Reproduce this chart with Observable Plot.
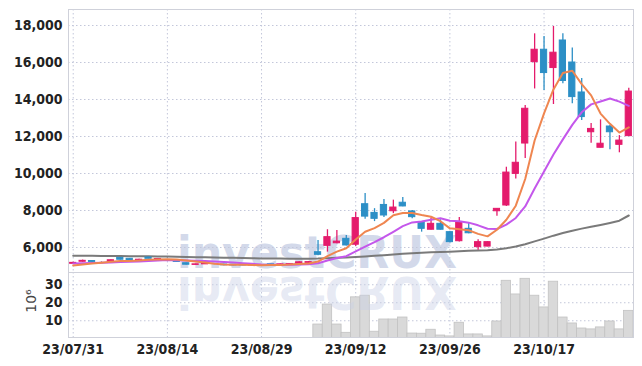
<!DOCTYPE html>
<html><head><meta charset="utf-8">
<script src="https://cdn.jsdelivr.net/npm/d3@7"></script>
<script src="https://cdn.jsdelivr.net/npm/@observablehq/plot@0.6"></script>
<style>
body{margin:0;background:#fff;}
#chart{position:relative;width:642px;height:366px;}
#chart svg{display:block;}
</style></head><body><div id="chart"></div>
<script>
const dates = ["23/07/31","23/08/01","23/08/02","23/08/03","23/08/04","23/08/07","23/08/08","23/08/09","23/08/10","23/08/11",
"23/08/14","23/08/16","23/08/17","23/08/18","23/08/21","23/08/22","23/08/23","23/08/24","23/08/25","23/08/28",
"23/08/29","23/08/30","23/08/31","23/09/01","23/09/04","23/09/05","23/09/06","23/09/07","23/09/08","23/09/11",
"23/09/12","23/09/13","23/09/14","23/09/15","23/09/18","23/09/19","23/09/20","23/09/21","23/09/22","23/09/25",
"23/09/26","23/09/27","23/10/04","23/10/05","23/10/06","23/10/10","23/10/11","23/10/12","23/10/13","23/10/16",
"23/10/17","23/10/18","23/10/19","23/10/20","23/10/23","23/10/24","23/10/25","23/10/26","23/10/27","23/10/30"];
const open = [5120,5230,5270,5200,5230,5440,5390,5250,5460,5290,
5430,5310,5150,5060,5090,5090,5080,5070,5060,5030,
5060,5090,5060,5080,5120,5170,5745,6090,6230,6470,
6150,8340,7870,8300,7960,8420,7950,7370,6960,7280,
6830,6340,7010,6020,6050,7960,8270,9980,11620,16020,
16690,15700,17190,16000,14380,12230,11390,12540,11550,12020];
const high = [5200,5320,5290,5230,5330,5460,5400,5370,5480,5400,
5450,5330,5160,5100,5140,5110,5090,5080,5070,5080,
5080,5100,5110,5130,5230,5240,6380,6960,6920,6650,
7910,8920,8100,8600,8560,8700,8000,7400,7600,7500,
6850,7620,7350,6420,6310,8100,10340,11700,13680,17550,
17410,17950,17550,16790,15130,12700,12900,12600,12050,14610];
const low = [5100,5210,5180,5170,5210,5320,5270,5230,5380,5270,
5410,5200,5050,5050,5080,5070,5020,5010,5020,5020,
5040,5050,5050,5070,5110,5150,5560,5750,6200,6080,
6060,7530,7400,7620,7830,8200,7560,6830,6940,6940,
6260,6300,6740,5850,6040,7690,8220,9700,10810,14570,
14490,13730,14850,13770,12860,11640,11390,11290,11120,12000];
const close = [5170,5280,5220,5200,5310,5340,5290,5340,5390,5380,
5430,5220,5070,5090,5120,5090,5040,5030,5030,5060,
5060,5060,5090,5110,5200,5210,5605,6560,6320,6110,
7590,7670,7550,7730,8160,8220,7640,7010,7280,6960,
6290,7370,6770,6290,6290,8090,10050,10580,13500,16690,
15430,16530,15000,14130,13050,12410,11610,12230,11780,14430];
// volume, millions
const volume = [0.2,0.2,0.2,0.2,0.2,0.2,0.2,0.2,0.2,0.2,
0.2,0.2,0.2,0.2,0.2,0.2,0.2,0.2,0.2,0.2,
0.2,0.2,0.2,0.2,0.2,0.2,7.9,19,7.9,3.3,
23,23.9,3.9,10.7,10.7,11.8,2.9,2.8,5,1.8,
1.3,8.9,2.4,2.4,1.3,9.6,32.2,24.6,33.3,23.9,
17.4,31.7,11.8,8.5,5.7,5.2,6.3,9.6,5.2,15.5];
const ma5 = [5030,5080,5130,5180,5236,5270,5272,5296,5334,5348,
5366,5352,5298,5238,5186,5118,5082,5074,5062,5050,
5044,5048,5060,5076,5104,5134,5243,5537,5779,5961,
6437,6850,7048,7330,7740,7866,7860,7752,7662,7422,
7036,6982,6934,6736,6602,6962,7498,8260,9702,11782,
13250,14546,15430,15556,14828,14224,13240,12686,12216,12492];
const ma10 = [5140,5150,5160,5170,5190,5210,5230,5250,5270,5292,
5318,5312,5297,5286,5267,5242,5217,5186,5150,5118,
5081,5065,5067,5069,5077,5089,5146,5299,5428,5533,
5786,6047,6293,6555,6851,7152,7355,7400,7496,7581,
7451,7421,7343,7199,7012,6999,7240,7597,8219,9192,
10106,11022,11845,12629,13305,13737,13893,14058,13886,13660];
const ma60 = [5560,5556,5552,5547,5543,5538,5532,5527,5521,5515,
5509,5500,5490,5480,5470,5460,5450,5440,5430,5420,
5412,5405,5400,5396,5393,5392,5400,5420,5440,5460,
5490,5520,5550,5580,5620,5660,5690,5710,5740,5760,
5775,5800,5820,5835,5850,5890,5960,6050,6180,6330,
6480,6640,6780,6910,7020,7120,7220,7330,7450,7730];
const yTicks = [6000,8000,10000,12000,14000,16000,18000];
const volTicks = [10,20,30];
const xTickIdx = [0,10,20,30,40,50];

const rows = dates.map((d,i)=>({i, date:d, open:open[i], high:high[i], low:low[i], close:close[i],
  vol:volume[i], ma5:ma5[i], ma10:ma10[i], ma60:ma60[i],
  dir: close[i]>open[i] ? "up" : close[i]<open[i] ? "down" : "flat"}));

const UP="#e41b6c", DOWN="#2c8fc6", FLAT="#8a8a8a";
const colorOf = d => d.dir==="up"?UP:d.dir==="down"?DOWN:FLAT;
const W=642, ML=68, MR=9;
const FONT = "'Liberation Sans Narrow','DejaVu Sans Condensed',sans-serif";
const GRID = "#c3c7da", FRAME="#cfd1da";
const xDom = [-0.5, 59.5];
const half = 0.33;

const main = Plot.plot({
  width: W, height: 272, marginTop: 9, marginBottom: 0, marginLeft: ML, marginRight: MR,
  style: {fontFamily: FONT, fontSize: "14px", fontWeight: "bold", color: "#222", background: "transparent"},
  x: {domain: xDom, axis: null},
  y: {domain: [4649, 18865], ticks: yTicks, tickFormat: d3.format(","), tickSize: 0, tickPadding: 6, label: null},
  marks: [
    Plot.ruleY(yTicks, {stroke: GRID, strokeDasharray: "1.5,2.5"}),
    Plot.ruleX(xTickIdx, {stroke: GRID, strokeDasharray: "1.5,2.5"}),
    Plot.line(rows, {x: "i", y: "ma60", stroke: "#7a7a7a", strokeWidth: 2}),
    Plot.ruleX(rows, {x: "i", y1: "low", y2: "high", stroke: colorOf, strokeWidth: 1.3}),
    Plot.rectY(rows, {x1: d => d.i - half, x2: d => d.i + half, y1: "open", y2: "close", fill: colorOf, stroke: colorOf, strokeWidth: 1}),
    Plot.line(rows, {x: "i", y: "ma10", stroke: "#c457eb", strokeWidth: 2}),
    Plot.line(rows, {x: "i", y: "ma5", stroke: "#ef8650", strokeWidth: 2}),
    Plot.frame({stroke: FRAME})
  ]
});

const vol = Plot.plot({
  width: W, height: 94, marginTop: 0, marginBottom: 29, marginLeft: ML, marginRight: MR,
  style: {fontFamily: FONT, fontSize: "14px", fontWeight: "bold", color: "#222", background: "transparent"},
  x: {domain: xDom, ticks: xTickIdx, tickFormat: i => dates[i], tickSize: 0, tickPadding: 7, label: null},
  y: {domain: [0.7, 36.8], ticks: volTicks, tickSize: 0, tickPadding: 6, label: null},
  marks: [
    Plot.ruleY(volTicks, {stroke: GRID, strokeDasharray: "1.5,2.5"}),
    Plot.ruleX(xTickIdx, {stroke: GRID, strokeDasharray: "1.5,2.5"}),
    Plot.rectY(rows, {x1: d => d.i - 0.5, x2: d => d.i + 0.5, y1: 0, y2: "vol", fill: "#d9d9d9", stroke: "#c2c2c2", strokeWidth: 0.8, clip: true}),
    Plot.frame({stroke: FRAME})
  ]
});

const host = document.getElementById("chart");
host.appendChild(main);
host.appendChild(vol);

// watermark (behind candles in main, reflected in volume panel)
const wm = d3.select(main).insert("g", "g");
wm.append("text").attr("x", 177).attr("y", 268).attr("text-anchor", "start")
  .attr("font-family", "'DejaVu Sans',sans-serif").attr("font-weight", "bold").attr("font-size", 44)
  .attr("textLength", 280).attr("lengthAdjust", "spacingAndGlyphs")
  .attr("fill", "#ccd3e7").attr("fill-opacity", 0.85).text("investCRUX");
d3.select(vol).append("g").attr("transform", "translate(0,5) scale(1,-1)")
  .append("text").attr("x", 177).attr("y", 0).attr("text-anchor", "start")
  .attr("font-family", "'DejaVu Sans',sans-serif").attr("font-weight", "bold").attr("font-size", 44)
  .attr("textLength", 280).attr("lengthAdjust", "spacingAndGlyphs")
  .attr("fill", "#c9d0e6").attr("fill-opacity", 0.45).text("investCRUX");

// volume unit label
d3.select(vol).append("text")
  .attr("transform", "translate(36,29) rotate(-90)")
  .attr("text-anchor", "middle")
  .attr("font-family", "'DejaVu Sans',sans-serif").attr("font-weight", "normal").attr("font-size", 14).attr("fill", "#444")
  .text("10⁶");
</script>
</body></html>
